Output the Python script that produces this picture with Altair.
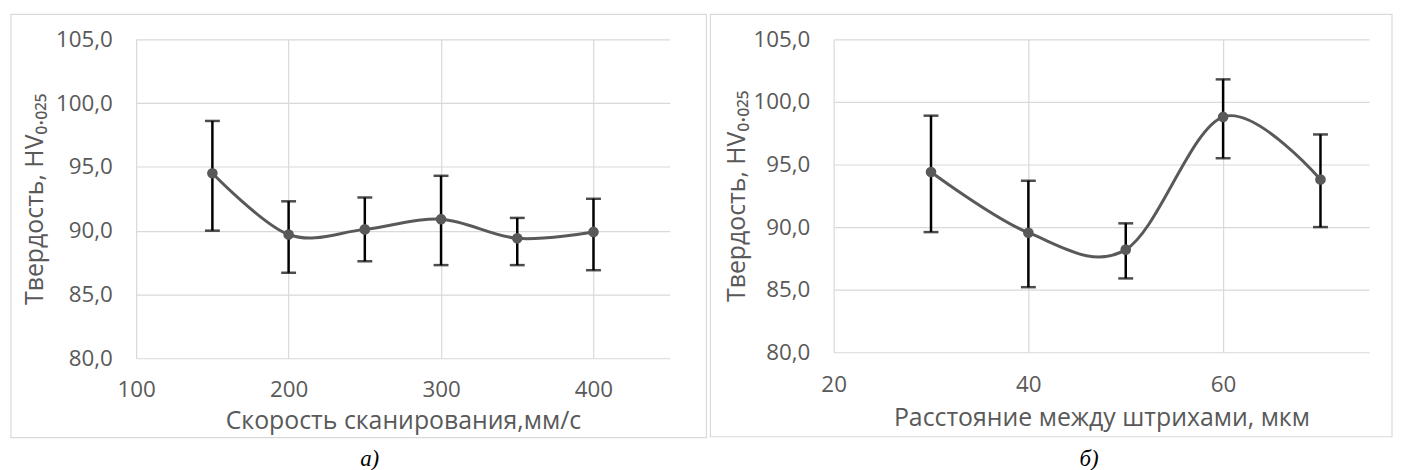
import altair as alt
import pandas as pd

# Panel a) — scanning speed
speed = [150, 200, 250, 300, 350, 400]
hv_a = [94.5, 89.7, 90.1, 90.9, 89.4, 89.9]
lo_a = [90.0, 86.7, 87.6, 87.3, 87.3, 86.9]
hi_a = [98.6, 92.3, 92.6, 94.3, 91.0, 92.5]

# Panel б) — hatch distance
hatch = [30, 40, 50, 60, 70]
hv_b = [94.4, 89.55, 88.2, 98.8, 93.8]
lo_b = [89.6, 85.2, 85.9, 95.5, 90.0]
hi_b = [98.9, 93.7, 90.3, 101.8, 97.4]

y_ticks = [80, 85, 90, 95, 100, 105]
xticks_a = [100, 200, 300, 400]
xticks_b = [20, 40, 60]

y_title = "Твердость, HV₀.₀₂₅"
x_title_a = "Скорость сканирования,мм/с"
x_title_b = "Расстояние между штрихами, мкм"

FONT = "Open Sans"
GRAY = "#595959"


def panel(xs, hv, lo, hi, xdomain, xticks, xtitle, w, h, frame, caption, cap_xy, xtitle_y, ytitle_x):
    df = pd.DataFrame({"x": xs, "hv": hv, "lo": lo, "hi": hi})
    base = alt.Chart(df)
    xenc = alt.X(
        "x:Q",
        scale=alt.Scale(domain=xdomain, nice=False, zero=False),
        axis=alt.Axis(values=xticks, title=xtitle, labelPadding=21, labelFlush=False,
                      titleBaseline="alphabetic", titleY=xtitle_y),
    )
    yenc = alt.Y(
        "hv:Q",
        scale=alt.Scale(domain=[80, 105], nice=False, zero=False),
        axis=alt.Axis(
            values=y_ticks,
            title=y_title,
            labelExpr="replace(format(datum.value, '.1f'), '.', ',')",
            labelPadding=24,
            labelFlush=False,
            titleBaseline="alphabetic",
            titleX=ytitle_x,
        ),
    )
    fr = alt.Chart(pd.DataFrame({"k": [0]})).mark_rect(
        fill="transparent", stroke="#d9d9d9", strokeWidth=1.2
    ).encode(
        x=alt.value(frame[0]), x2=alt.value(frame[1]),
        y=alt.value(frame[2]), y2=alt.value(frame[3]),
    )
    line = base.mark_line(interpolate="cardinal", color=GRAY, strokeWidth=3).encode(x=xenc, y=yenc)
    rules = base.mark_rule(color="black", strokeWidth=2.5).encode(x="x:Q", y="lo:Q", y2="hi:Q")
    cap_lo = base.mark_tick(orient="horizontal", size=15, thickness=2.5, color="black").encode(x="x:Q", y="lo:Q")
    cap_hi = base.mark_tick(orient="horizontal", size=15, thickness=2.5, color="black").encode(x="x:Q", y="hi:Q")
    pts = base.mark_circle(size=115, color=GRAY, opacity=1).encode(x="x:Q", y="hv:Q")
    cap = alt.Chart(pd.DataFrame({"t": [caption]})).mark_text(
        font="Liberation Serif", fontStyle="italic", fontSize=23, color="black"
    ).encode(text="t:N", x=alt.value(cap_xy[0]), y=alt.value(cap_xy[1]))
    return alt.layer(fr, line, rules, cap_lo, cap_hi, pts, cap).properties(width=w, height=h)


left = panel(speed, hv_a, lo_a, hi_a, [100, 450], xticks_a, x_title_a, 537, 321,
             (-126, 574, -25, 401), "а)", (235, 422), 71, -94)
right = panel(hatch, hv_b, lo_b, hi_b, [20, 75], xticks_b, x_title_b, 539, 315,
              (-124, 562, -25, 400), "б)", (257, 422), 74, -90)

chart = alt.hconcat(left, right, spacing=2).properties(
    padding={"left": 2, "top": 4, "right": 0, "bottom": 0}
).configure_view(stroke=None).configure_axis(
    grid=True,
    gridColor="#d9d9d9",
    gridWidth=1.2,
    domain=False,
    ticks=False,
    labelFont=FONT,
    labelFontSize=22.5,
    labelColor=GRAY,
    titleFont=FONT,
    titleFontSize=25,
    titleFontWeight="normal",
    titleColor=GRAY,
)

chart.save("out.html", embed_options={"renderer": "svg", "actions": False})
